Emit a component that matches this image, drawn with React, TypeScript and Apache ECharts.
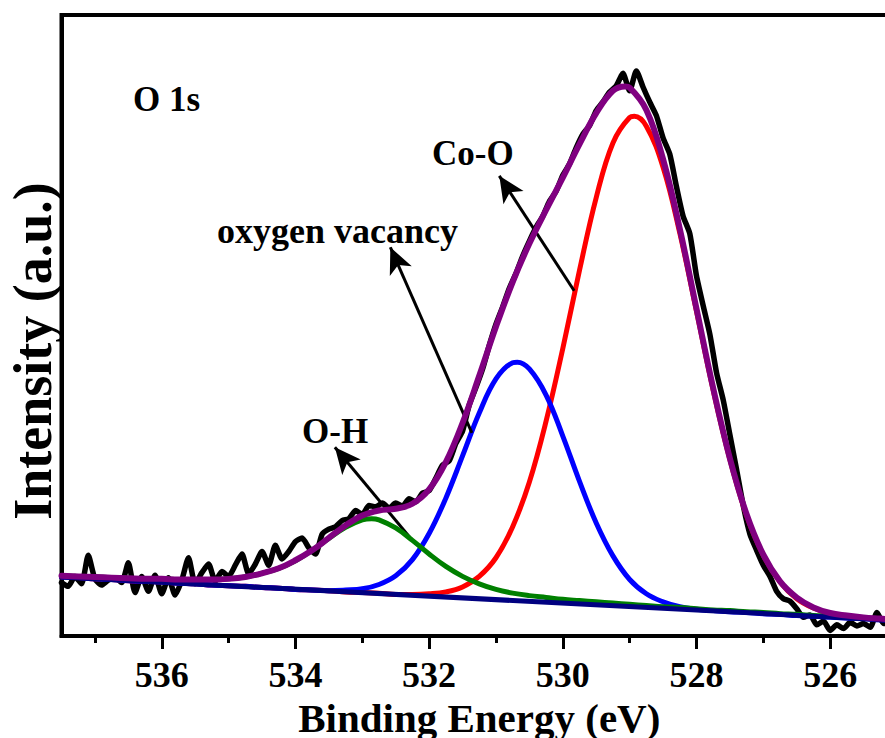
import React, { useEffect, useRef } from "react";
import * as echarts from "echarts";

// Fitted-curve sampling energies (eV)
const energy = [
  537.5, 537.25, 537.0, 536.75, 536.5, 536.25, 536.0, 535.75, 535.5, 535.25,
  535.0, 534.75, 534.5, 534.25, 534.0, 533.75, 533.5, 533.25, 533.0, 532.75,
  532.5, 532.25, 532.0, 531.75, 531.5, 531.25, 531.0, 530.75, 530.5, 530.25,
  530.0, 529.75, 529.5, 529.25, 529.0, 528.75, 528.5, 528.25, 528.0, 527.75,
  527.5, 527.25, 527.0, 526.75, 526.5, 526.25, 526.0, 525.75, 525.5, 525.25,
  525.0,
];

// Co-O component (red), incl. background
const coO = [
  9.5, 9.4, 9.2, 9.1, 8.9, 8.8, 8.7, 8.5, 8.4, 8.2,
  8.1, 8.0, 7.8, 7.7, 7.5, 7.4, 7.3, 7.1, 7.0, 6.9,
  6.7, 6.7, 6.8, 7.1, 7.9, 9.6, 12.6, 17.6, 24.8, 34.6,
  46.3, 58.9, 70.6, 79.4, 83.5, 82.1, 75.5, 64.9, 52.3, 39.6,
  28.4, 19.4, 13.0, 8.7, 6.0, 4.5, 3.6, 3.2, 2.9, 2.7,
  2.5,
];
const coOPeak = [528.93, 83.7];

// Oxygen vacancy component (blue), incl. background
const vacancy = [
  9.5, 9.4, 9.2, 9.1, 8.9, 8.8, 8.7, 8.5, 8.4, 8.2,
  8.1, 8.0, 7.8, 7.7, 7.5, 7.4, 7.3, 7.4, 7.6, 8.3,
  9.7, 12.3, 16.5, 22.2, 29.0, 35.9, 41.4, 44.0, 43.0, 38.8,
  32.2, 24.9, 18.2, 12.9, 9.1, 6.8, 5.5, 4.7, 4.3, 4.1,
  3.9, 3.8, 3.6, 3.5, 3.3, 3.2, 3.05, 2.9, 2.8, 2.6,
  2.5,
];
const vacancyPeak = [530.68, 44.1];

// O-H component (green), incl. background
const hydroxyl = [
  9.7, 9.6, 9.5, 9.4, 9.3, 9.2, 9.2, 9.1, 9.1, 9.1,
  9.2, 9.5, 10.1, 10.9, 12.1, 13.8, 15.7, 17.5, 18.7, 18.7,
  17.4, 15.4, 13.2, 11.2, 9.6, 8.4, 7.5, 6.9, 6.5, 6.2,
  5.9, 5.7, 5.5, 5.3, 5.1, 4.9, 4.7, 4.6, 4.4, 4.2,
  4.1, 3.9, 3.8, 3.6, 3.5, 3.3, 3.2, 3.0, 2.9, 2.7,
  2.6,
];
const hydroxylPeak = [532.86, 18.9];

// Envelope (purple)
const envelope = [
  9.7, 9.6, 9.5, 9.4, 9.3, 9.2, 9.2, 9.1, 9.1, 9.1,
  9.2, 9.5, 10.1, 10.9, 12.2, 13.8, 15.8, 17.8, 19.4, 20.2,
  20.5, 21.3, 23.6, 28.0, 34.3, 41.9, 49.8, 57.0, 63.2, 68.6,
  73.8, 79.2, 84.2, 87.8, 88.3, 84.7, 76.8, 65.6, 52.7, 39.9,
  28.6, 19.6, 13.1, 8.8, 6.2, 4.6, 3.7, 3.3, 3.0, 2.8,
  2.6,
];
const envelopePeak = [529.07, 88.5];

// Background (navy)
const bgEnergy = [537.5, 525.0];
const bgIntensity = [9.5, 2.49];

// Raw spectrum (black)
const rawEnergy = [
  537.5, 537.4, 537.3, 537.2, 537.1, 537.0, 536.9, 536.8, 536.7, 536.6,
  536.5, 536.4, 536.3, 536.2, 536.1, 536.0, 535.9, 535.8, 535.7, 535.6,
  535.5, 535.4, 535.3, 535.2, 535.1, 535.0, 534.9, 534.8, 534.7, 534.6,
  534.5, 534.4, 534.3, 534.2, 534.1, 534.0, 533.9, 533.8, 533.7, 533.6,
  533.5, 533.4, 533.3, 533.2, 533.1, 533.0, 532.9, 532.8, 532.7, 532.6,
  532.5, 532.4, 532.3, 532.2, 532.1, 532.0, 531.9, 531.8, 531.7, 531.6,
  531.5, 531.4, 531.3, 531.2, 531.1, 531.0, 530.9, 530.8, 530.7, 530.6,
  530.5, 530.4, 530.3, 530.2, 530.1, 530.0, 529.9, 529.8, 529.7, 529.6,
  529.5, 529.4, 529.3, 529.2, 529.1, 529.0, 528.9, 528.8, 528.7, 528.6,
  528.5, 528.4, 528.3, 528.2, 528.1, 528.0, 527.9, 527.8, 527.7, 527.6,
  527.5, 527.4, 527.3, 527.2, 527.1, 527.0, 526.9, 526.8, 526.7, 526.6,
  526.5, 526.4, 526.3, 526.2, 526.1, 526.0, 525.9, 525.8, 525.7, 525.6,
  525.5, 525.4, 525.3, 525.2, 525.1, 525.0,
];
const rawIntensity = [
  8.6, 8.0, 9.6, 8.4, 13.0, 9.2, 8.2, 9.0, 9.4, 8.6,
  11.8, 7.0, 9.6, 7.2, 9.8, 6.8, 9.4, 6.6, 9.0, 12.6,
  8.4, 10.2, 11.6, 8.8, 10.4, 9.6, 11.4, 13.2, 10.0, 11.6,
  13.6, 11.4, 14.6, 12.4, 13.6, 15.2, 15.8, 14.2, 13.2, 16.4,
  17.2, 17.6, 18.6, 18.9, 20.2, 19.6, 21.0, 20.8, 21.4, 20.6,
  21.4, 20.9, 22.1, 21.6, 23.0, 23.4, 25.4, 27.5, 28.2, 31.0,
  33.0, 37.2, 40.0, 43.0, 46.8, 50.2, 53.0, 56.0, 58.4, 61.2,
  63.6, 65.8, 67.6, 70.0, 71.6, 74.2, 76.0, 78.6, 80.8, 82.2,
  84.6, 86.0, 87.6, 88.6, 90.6, 87.8, 91.0, 88.4, 86.0, 83.8,
  80.2, 77.6, 72.4, 67.6, 64.8, 58.0, 53.2, 48.6, 42.4, 38.0,
  32.4, 26.8, 21.0, 16.4, 13.8, 11.4, 9.6, 7.2, 6.0, 5.6,
  4.4, 3.0, 3.4, 1.8, 2.4, 0.9, 1.8, 1.2, 2.2, 1.6,
  2.0, 1.4, 3.8, 2.0, 2.2, 2.0,
];

const majorTicks = [526, 528, 530, 532, 534, 536];
const minorTicks = [527, 529, 531, 533, 535, 537];

// Annotation arrows: [tail energy, tail intensity] -> [head energy, head intensity]
const arrowCoOTail = [529.83, 55.6];
const arrowCoOHead = [530.95, 74.1];
const arrowVacTail = [531.36, 32.7];
const arrowVacHead = [532.58, 62.6];
const arrowOHTail = [532.29, 15.9];
const arrowOHHead = [533.41, 30.4];

const SERIF = "Times New Roman";

const zip = (xs: number[], ys: number[]) => xs.map((x, i) => [x, ys[i]]);
const withPeak = (xs: number[], ys: number[], peak: number[]) =>
  [...zip(xs, ys), peak].sort((a, b) => b[0] - a[0]);

export default function App() {
  const ref = useRef<HTMLDivElement>(null);

  useEffect(() => {
    if (!ref.current) return;
    const chart = echarts.init(ref.current, undefined, { renderer: "svg" });

    const gridPos = { left: 61.5, top: 15, right: -12, bottom: 102, containLabel: false, outerBoundsMode: "none" };
    const fitLine = (name: string, data: number[][], color: string, width: number, z: number) => ({
      name,
      type: "line",
      data,
      showSymbol: false,
      symbol: "none",
      smooth: 0.4,
      z,
      lineStyle: { color, width, cap: "round", join: "round" },
      silent: true,
    });

    chart.setOption({
      animation: false,
      backgroundColor: "#ffffff",
      textStyle: { fontFamily: SERIF, fontWeight: "bold", color: "#000" },
      grid: [
        { ...gridPos, show: true, borderColor: "#000", borderWidth: 4, backgroundColor: "transparent" },
        { ...gridPos, show: false },
      ],
      xAxis: [
        {
          type: "value",
          gridIndex: 0,
          min: 525,
          max: 537.5,
          inverse: true,
          position: "bottom",
          axisLine: { show: true, onZero: false, lineStyle: { color: "#000", width: 4 } },
          axisTick: { show: true, customValues: majorTicks, length: 13, lineStyle: { color: "#000", width: 3 } },
          axisLabel: {
            customValues: majorTicks,
            color: "#000",
            fontSize: 36,
            fontWeight: "bold",
            fontFamily: SERIF,
            margin: 21,
          },
          splitLine: { show: false },
          name: "Binding Energy (eV)",
          nameLocation: "middle",
          nameGap: 49,
          nameTextStyle: { color: "#000", fontSize: 41, fontWeight: "bold", fontFamily: SERIF },
        },
        {
          type: "value",
          gridIndex: 1,
          min: 525,
          max: 537.5,
          inverse: true,
          position: "bottom",
          axisLine: { show: false },
          axisTick: { show: true, customValues: minorTicks, length: 7, lineStyle: { color: "#000", width: 3 } },
          axisLabel: { show: false },
          splitLine: { show: false },
        },
      ],
      yAxis: [
        {
          type: "value",
          gridIndex: 0,
          min: 0,
          max: 100,
          axisLine: { show: true, onZero: false, lineStyle: { color: "#000", width: 4 } },
          axisTick: { show: false },
          axisLabel: { show: false },
          splitLine: { show: false },
        },
        { type: "value", gridIndex: 1, min: 0, max: 100, show: false },
      ],
      series: [
        {
          name: "raw",
          type: "line",
          data: zip(rawEnergy, rawIntensity),
          showSymbol: false,
          symbol: "none",
          smooth: 0.2,
          z: 2,
          lineStyle: { color: "#000", width: 5.5, cap: "round", join: "round" },
          silent: true,
        },
        fitLine("Co-O", withPeak(energy, coO, coOPeak), "#ff0000", 5, 3),
        fitLine("oxygen vacancy", withPeak(energy, vacancy, vacancyPeak), "#0000ff", 5, 4),
        fitLine("O-H", withPeak(energy, hydroxyl, hydroxylPeak), "#008000", 5, 5),
        fitLine("background", zip(bgEnergy, bgIntensity), "#000080", 5, 6),
        fitLine("envelope", withPeak(energy, envelope, envelopePeak), "#800080", 6, 7),
        {
          name: "arrows",
          type: "line",
          data: [],
          z: 10,
          silent: true,
          markLine: {
            silent: true,
            symbol: ["none", "arrow"],
            symbolSize: [18, 26],
            label: { show: false },
            lineStyle: { color: "#000", width: 3, type: "solid" },
            data: [
              [{ coord: arrowCoOTail }, { coord: arrowCoOHead }],
              [{ coord: arrowVacTail }, { coord: arrowVacHead }],
              [{ coord: arrowOHTail }, { coord: arrowOHHead }],
            ],
          },
        },
      ],
      graphic: [
        {
          type: "text",
          x: 33,
          y: 351,
          rotation: Math.PI / 2,
          style: {
            text: "Intensity (a.u.)",
            fontSize: 54,
            fontWeight: "bold",
            fontFamily: SERIF,
            align: "center",
            verticalAlign: "middle",
          },
        },
        { type: "text", style: { text: "O 1s", x: 133, y: 99, fontSize: 35, fontWeight: "bold", fontFamily: SERIF, verticalAlign: "middle" } },
        { type: "text", style: { text: "Co-O", x: 432, y: 153, fontSize: 35, fontWeight: "bold", fontFamily: SERIF, verticalAlign: "middle" } },
        { type: "text", style: { text: "oxygen vacancy", x: 217, y: 231, fontSize: 36, fontWeight: "bold", fontFamily: SERIF, verticalAlign: "middle" } },
        { type: "text", style: { text: "O-H", x: 302, y: 431, fontSize: 35, fontWeight: "bold", fontFamily: SERIF, verticalAlign: "middle" } },
      ],
    });

    return () => chart.dispose();
  }, []);

  return (
    <div
      ref={ref}
      style={{ position: "absolute", left: 0, top: 0, width: 885, height: 738, background: "#fff" }}
    />
  );
}
